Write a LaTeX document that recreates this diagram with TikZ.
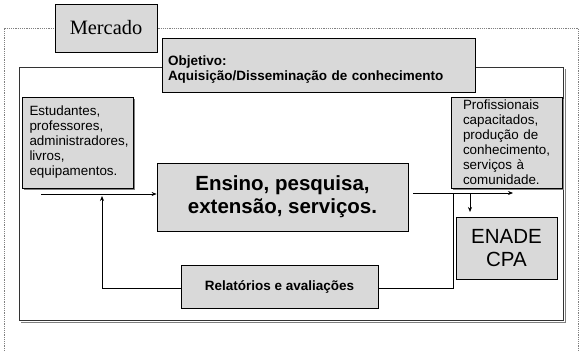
\documentclass[tikz,border=0pt]{standalone}
\usepackage{fontspec}
\setmainfont{Liberation Serif}
\newfontfamily\arial{Liberation Sans}
\usetikzlibrary{arrows.meta}
\definecolor{boxfill}{HTML}{D9D9D9}
\definecolor{dotgray}{HTML}{808080}
\tikzset{
  box/.style={draw=black, line width=0.8pt, fill=boxfill, inner sep=0pt},
  smalltxt/.style={font=\arial\fontsize{13.4}{15}\selectfont, align=left},
  bigbold/.style={font=\arial\bfseries\fontsize{20.5}{22.7}\selectfont, align=center},
  bigtxt/.style={font=\arial\fontsize{20.5}{22.3}\selectfont, align=center},
  conn/.style={line width=0.7pt, black},
  arr/.style={conn, -{Stealth[length=5pt,width=4pt]}},
  shadowline/.style={line width=1pt, draw=gray},
}
\begin{document}
\begin{tikzpicture}[x=1pt,y=-1pt]
\useasboundingbox[fill=white] (0,0) rectangle (584,351);
% outer dotted frame (open at bottom)
\draw[dotgray, line width=1pt, dash pattern=on 1.2pt off 1pt] (4,351) -- (4,28) -- (578,28) -- (578,351);
% inner frame
\draw[shadowline] (565,69) -- (565,322) -- (21,322);
\draw[line width=0.8pt, black!80] (19,67) rectangle (563,320);
% Mercado
\node[box, minimum width=102pt, minimum height=48pt, font=\fontsize{20.4}{22}\selectfont] (merc) at (106,28) {Mercado};
% Objetivo
\node[box, minimum width=313pt, minimum height=54pt, text width=301pt, align=left,
      font=\arial\bfseries\fontsize{13.5}{15}\selectfont] (obj) at (318.5,65)
  {\rule{0pt}{19pt}Objetivo:\\Aquisição/Disseminação de conhecimento};
% Estudantes
\draw[shadowline] (24,189) -- (134,189) -- (134,99);
\node[box, minimum width=111pt, minimum height=91pt, text width=96pt, smalltxt] (est) at (77.5,142.5)
  {Estudantes,\\professores,\\administradores,\\livros,\\equipamentos.};
% Ensino
\node[box, minimum width=251pt, minimum height=68pt, bigbold] (ens) at (282.5,197) {Ensino, pesquisa,\\extensão, serviços.};
% Profissionais
\draw[shadowline] (453,189) -- (563,189) -- (563,99);
\node[box, minimum width=111pt, minimum height=91pt, text width=88pt, smalltxt] (prof) at (507,142.5)
  {Profissionais\\capacitados,\\produção de\\conhecimento,\\serviços à\\comunidade.};
% ENADE
\node[box, minimum width=101pt, minimum height=62pt, bigtxt] (enade) at (506.5,248) {ENADE\\CPA};
% Relatorios
\node[box, minimum width=197pt, minimum height=43pt, font=\arial\bfseries\fontsize{13.5}{15}\selectfont] (rel) at (279.5,286.5) {Relatórios e avaliações};
% coordinates
\coordinate (inS) at (41,194);
\coordinate (outS) at (413,193);
\coordinate (outE) at (513,193);
\coordinate (dnS) at (470,193);
\coordinate (dnE) at (470,212);
\coordinate (fbR) at (453,193);
\coordinate (fbRB) at (453,288);
\coordinate (fbLB) at (102,288);
\coordinate (fbLT) at (102,196);
% connectors
\draw[arr] (inS) -- (inS -| ens.west);
\draw[arr] (outS) -- (outE);
\draw[arr] (dnS) -- (dnE);
\draw[conn] (fbR) -- (fbRB) -- (fbRB -| rel.east);
\draw[arr] (fbLB -| rel.west) -- (fbLB) -- (fbLT);
\end{tikzpicture}
\end{document}
